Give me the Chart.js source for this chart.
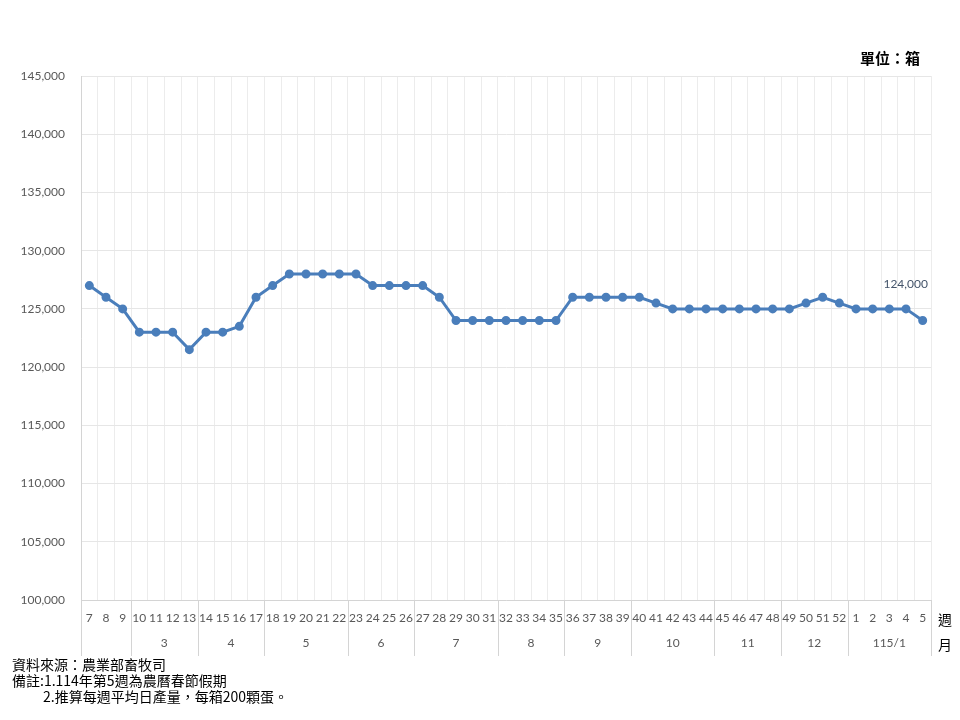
<!DOCTYPE html>
<html>
<head>
<meta charset="utf-8">
<script src="https://cdn.jsdelivr.net/npm/chart.js@4/dist/chart.umd.min.js"></script>
<style>
  html, body { margin: 0; padding: 0; background: #fff; }
  #wrap { width: 960px; height: 720px; }
</style>
</head>
<body>
<div id="wrap"><canvas id="eggChart" width="960" height="720"></canvas></div>
<script>
// weeks: 114/7 ~ 114/52, then 115/1 ~ 115/5
const weekLabels = [
  '7','8','9','10','11','12','13','14','15','16','17','18','19','20','21','22',
  '23','24','25','26','27','28','29','30','31','32','33','34','35','36','37','38',
  '39','40','41','42','43','44','45','46','47','48','49','50','51','52',
  '1','2','3','4','5'
];
const weeklyBoxes = [
  127000,126000,125000,123000,123000,123000,121500,123000,123000,123500,126000,127000,
  128000,128000,128000,128000,128000,127000,127000,127000,127000,126000,
  124000,124000,124000,124000,124000,124000,124000,
  126000,126000,126000,126000,126000,125500,
  125000,125000,125000,125000,125000,125000,125000,125000,125500,126000,125500,
  125000,125000,125000,125000,124000
];
// month groups under the week row
const monthLabels = ['', '3', '4', '5', '6', '7', '8', '9', '10', '11', '12', '115/1'];
const monthWeekCounts = [3, 4, 4, 5, 4, 5, 4, 4, 5, 4, 4, 5];
const yTicks = { min: 100000, max: 145000, step: 5000 };

const numFont = "Lato, 'Open Sans', sans-serif";
const cjkFont = "'Noto Sans CJK TC', 'Noto Sans', sans-serif";

const extras = {
  id: 'extras',
  afterDraw(chart) {
    const c = chart.ctx;
    const x = chart.scales.x;
    const area = chart.chartArea;
    const step = x.getPixelForValue(1) - x.getPixelForValue(0);
    c.save();

    // month separators + month labels
    c.strokeStyle = '#d4d4d4';
    c.lineWidth = 1;
    c.fillStyle = '#595959';
    c.font = '12px ' + numFont;
    c.textAlign = 'center';
    c.textBaseline = 'middle';
    let idx = 0;
    monthWeekCounts.forEach((n, i) => {
      const left = x.getPixelForValue(idx) - step / 2;
      const right = x.getPixelForValue(idx + n - 1) + step / 2;
      c.beginPath();
      c.moveTo(Math.round(left) + 0.5, area.bottom);
      c.lineTo(Math.round(left) + 0.5, area.bottom + 56);
      c.stroke();
      if (i === monthWeekCounts.length - 1) {
        c.beginPath();
        c.moveTo(Math.round(right) + 0.5, area.bottom);
        c.lineTo(Math.round(right) + 0.5, area.bottom + 56);
        c.stroke();
      }
      c.fillText(monthLabels[i], (left + right) / 2, area.bottom + 43);
      idx += n;
    });

    // axis captions on the right
    c.fillStyle = '#000';
    c.font = '14px ' + cjkFont;
    c.fillText('週', area.right + 14, area.bottom + 20);
    c.fillText('月', area.right + 14, area.bottom + 45);

    // last value label
    const meta = chart.getDatasetMeta(0);
    const last = meta.data[meta.data.length - 1];
    c.fillStyle = '#44546a';
    c.font = '12px ' + numFont;
    c.fillText(weeklyBoxes[weeklyBoxes.length - 1].toLocaleString('en-US'), last.x - 17, last.y - 36);

    // unit
    c.fillStyle = '#000';
    c.font = 'bold 15px ' + cjkFont;
    c.textAlign = 'right';
    c.fillText('單位：箱', 920, 58);

    // notes
    c.textAlign = 'left';
    c.font = '14px ' + cjkFont;
    c.fillText('資料來源：農業部畜牧司', 12, 665);
    c.fillText('備註:1.114年第5週為農曆春節假期', 12, 681);
    c.fillText('2.推算每週平均日產量，每箱200顆蛋。', 43, 697);
    c.restore();
  }
};

const ctx = document.getElementById('eggChart').getContext('2d');
new Chart(ctx, {
  type: 'line',
  data: {
    labels: weekLabels,
    datasets: [{
      data: weeklyBoxes,
      borderColor: '#4a7ebb',
      backgroundColor: '#4a7ebb',
      borderWidth: 3,
      pointRadius: 3,
      pointHoverRadius: 3,
      tension: 0,
      fill: false
    }]
  },
  options: {
    responsive: false,
    animation: false,
    layout: { padding: { left: 0, right: 29, top: 76, bottom: 60 } },
    plugins: {
      legend: { display: false },
      tooltip: { enabled: false }
    },
    scales: {
      x: {
        offset: true,
        grid: { offset: true, color: '#ececec', drawTicks: false },
        border: { color: '#d4d4d4' },
        ticks: {
          autoSkip: false,
          maxRotation: 0,
          padding: 11,
          color: '#595959',
          font: { size: 12, family: numFont }
        },
        afterFit(s) { s.height = 60; }
      },
      y: {
        min: yTicks.min,
        max: yTicks.max,
        grid: { color: '#e6e6e6', drawTicks: false },
        border: { color: '#d4d4d4' },
        ticks: {
          stepSize: yTicks.step,
          padding: 16,
          color: '#595959',
          font: { size: 12, family: numFont },
          callback: v => v.toLocaleString('en-US')
        },
        afterFit(s) { s.width = 81; }
      }
    }
  },
  plugins: [extras]
});
</script>
</body>
</html>
